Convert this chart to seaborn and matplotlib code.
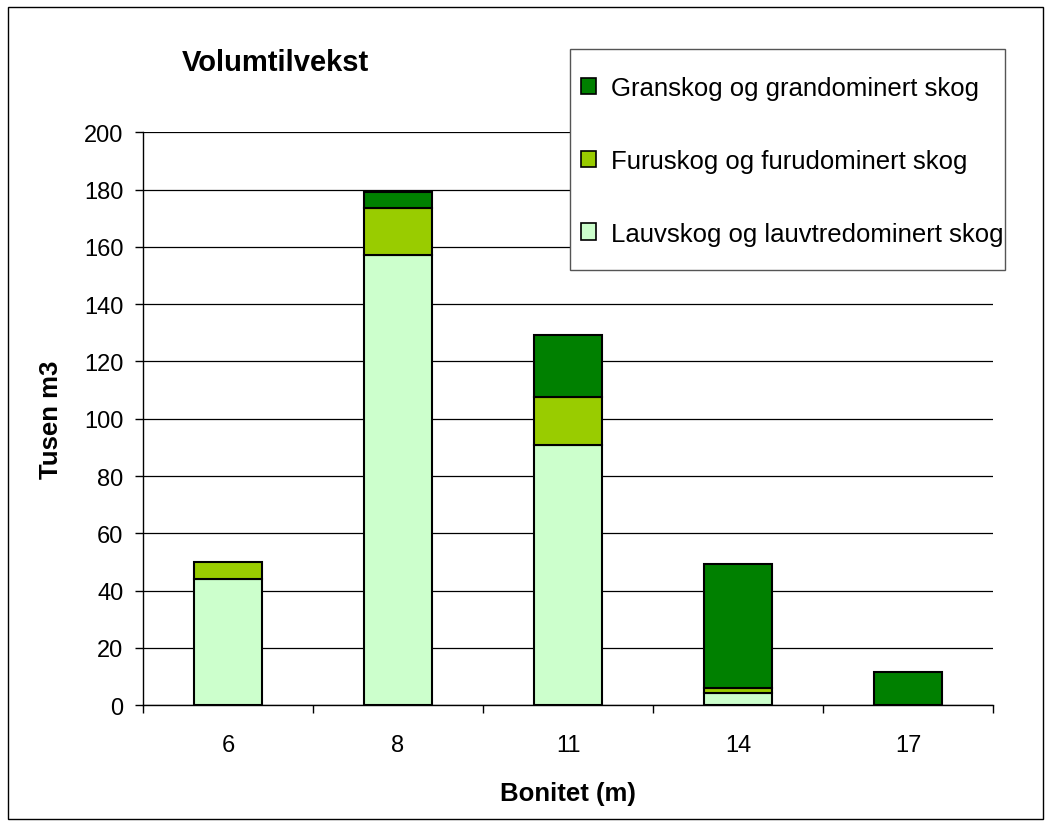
import numpy as np
import pandas as pd
import matplotlib
matplotlib.use("Agg")
import matplotlib.pyplot as plt
import seaborn as sns
from matplotlib.patches import Patch, Rectangle

bonitet = ["6", "8", "11", "14", "17"]
lauv = [44.0, 157.0, 90.8, 4.4, 0.0]
furu = [5.9, 16.6, 16.8, 1.6, 0.0]
gran = [0.0, 5.6, 21.7, 43.2, 11.5]

labels = ["Granskog og grandominert skog",
          "Furuskog og furudominert skog",
          "Lauvskog og lauvtredominert skog"]
colors = {"gran": "#008000", "furu": "#99CC00", "lauv": "#CCFFCC"}

sns.set_style("white")
plt.rcParams["font.family"] = ["Liberation Sans", "DejaVu Sans"]
for k in ["text.color", "axes.labelcolor", "xtick.color", "ytick.color"]:
    plt.rcParams[k] = "black"

fig = plt.figure(figsize=(10.51, 8.28), dpi=100)
ax = fig.add_axes([0.136, 0.147, 0.809, 0.692])

df = pd.DataFrame({"bonitet": bonitet, "lauv": lauv, "furu": furu, "gran": gran})
bottom1 = np.array(lauv)
bottom2 = bottom1 + np.array(furu)

kw = dict(width=0.4, edgecolor="black", linewidth=1.5, saturation=1, ax=ax, zorder=3)
sns.barplot(data=df, x="bonitet", y="lauv", color=colors["lauv"], **kw)
sns.barplot(data=df, x="bonitet", y="furu", bottom=bottom1, color=colors["furu"], **kw)
sns.barplot(data=df, x="bonitet", y="gran", bottom=bottom2, color=colors["gran"], **kw)

# hide zero-height patches
for p in ax.patches:
    if p.get_height() == 0:
        p.set_visible(False)

ax.set_ylim(0, 200)
ax.set_xlim(-0.5, 4.5)
ax.set_yticks(range(0, 201, 20))
ax.yaxis.grid(True, color="black", linewidth=0.9, zorder=0)
ax.set_axisbelow(True)
for s in ["top", "right"]:
    ax.spines[s].set_visible(False)
ax.spines["left"].set_color("black")
ax.spines["bottom"].set_color("black")
ax.spines["left"].set_linewidth(1.0)
ax.spines["bottom"].set_linewidth(1.0)

ax.tick_params(axis="y", which="major", length=6, width=1, color="black",
               direction="out", left=True, labelsize=17, pad=8)
ax.tick_params(axis="x", which="major", length=0, labelsize=17, pad=21)
ax.set_xticks(np.arange(-0.5, 5, 1), minor=True)
ax.tick_params(axis="x", which="minor", length=6, width=1, color="black",
               direction="out", bottom=True)

ax.set_xlabel("Bonitet (m)", fontsize=18.5, fontweight="bold", labelpad=18)
ax.set_ylabel("Tusen m3", fontsize=18.5, fontweight="bold", labelpad=15)
fig.text(182 / 1051, 1 - 71 / 828, "Volumtilvekst", fontsize=21, fontweight="bold",
         ha="left", va="baseline")

# legend box
fig.patches.append(Rectangle((570 / 1051, 1 - 271 / 828), 435 / 1051, 221 / 828,
                             transform=fig.transFigure, facecolor="white",
                             edgecolor="#555555", linewidth=1.0, zorder=1))
handles = [Patch(facecolor=colors[k], edgecolor="black", linewidth=1.2)
           for k in ["gran", "furu", "lauv"]]
leg = fig.legend(handles, labels, loc="upper left",
                 bbox_to_anchor=(581 / 1051, 1 - 77 / 828),
                 fontsize=18.5, frameon=False,
                 handlelength=0.6, handleheight=0.6, handletextpad=0.55,
                 labelspacing=1.9, borderpad=0, borderaxespad=0)
leg.set_zorder(2)

fig.patches.append(Rectangle((0.008, 0.01), 0.984, 0.98, transform=fig.transFigure,
                             fill=False, edgecolor="black", linewidth=1.0))

fig.savefig("out.png", dpi=100)
